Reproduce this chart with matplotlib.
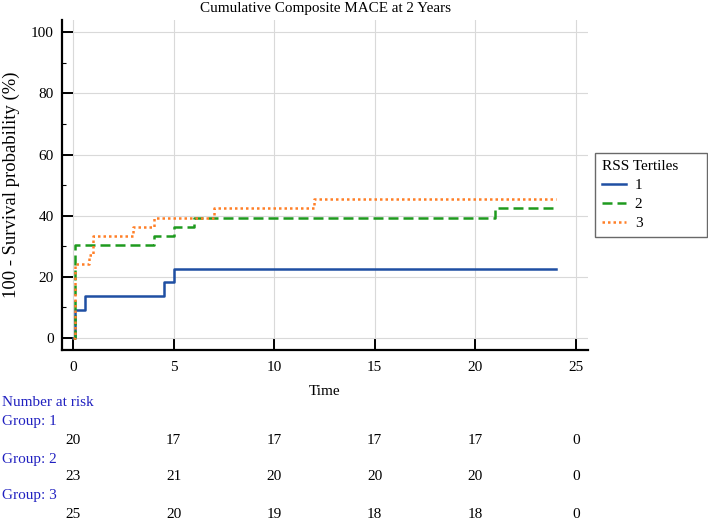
import matplotlib
matplotlib.use("Agg")
import matplotlib.pyplot as plt
from matplotlib.transforms import blended_transform_factory
from matplotlib.ticker import MultipleLocator

plt.rcParams['font.family'] = ['Liberation Serif', 'DejaVu Serif']

# Data: step curves (time, cumulative event %)
g1_t = [0, 0.1, 0.6, 4.5, 5.0, 24]
g1_y = [0, 9.1, 13.6, 18.2, 22.7, 22.7]
g2_t = [0, 0.1, 4.0, 5.0, 6.0, 21.0, 24]
g2_y = [0, 30.3, 33.3, 36.4, 39.4, 42.4, 42.4]
g3_t = [0, 0.1, 0.8, 1.0, 3.0, 4.0, 7.0, 12.0, 24]
g3_y = [0, 24.2, 27.3, 33.3, 36.4, 39.4, 42.4, 45.5, 45.5]

groups = ["1", "2", "3"]
risk_times = [0, 5, 10, 15, 20, 25]
risk_g1 = [20, 17, 17, 17, 17, 0]
risk_g2 = [23, 21, 20, 20, 20, 0]
risk_g3 = [25, 20, 19, 18, 18, 0]

colors = ["#1f4fa3", "#1e9a1e", "#ff7f27"]
styles = ["-", (0, (4, 2)), (0, (1, 1.2))]

fig = plt.figure(figsize=(7.08, 5.21), dpi=100)
ax = fig.add_axes([62/708, 1-350/521, (588-62)/708, (350-20)/521])

for t, y, c, ls, lab in zip([g1_t, g2_t, g3_t], [g1_y, g2_y, g3_y], colors, styles, groups):
    ax.step(t, y, where="post", color=c, linestyle=ls, lw=1.8, label=lab)

ax.set_xlim(-0.55, 25.6)
ax.set_ylim(-3.9, 104)
ax.set_xticks(range(0, 26, 5))
ax.set_yticks(range(0, 101, 20))
ax.yaxis.set_minor_locator(MultipleLocator(10))
ax.grid(True, which="major", color="#d9d9d9", lw=0.8)
for s in ["top", "right"]:
    ax.spines[s].set_visible(False)
for s in ["left", "bottom"]:
    ax.spines[s].set_linewidth(1.6)
ax.tick_params(axis="both", which="major", direction="in", length=8, width=1.4, labelsize=11)
ax.tick_params(axis="y", which="minor", direction="in", length=3, width=0.8)
ax.tick_params(axis="x", pad=8)
ax.tick_params(axis="y", pad=6)

ax.set_title("Cumulative Composite MACE at 2 Years", fontsize=10.9, pad=6)
ax.set_xlabel("Time", fontsize=11, labelpad=8)
ax.set_ylabel("100 - Survival probability (%)", fontsize=13.4)
ax.yaxis.set_label_coords(-0.080, 0.5)

leg = ax.legend(title="RSS Tertiles", loc="upper left",
                bbox_to_anchor=(595/708, 1-153/521, (707-595)/708, 0),
                bbox_transform=fig.transFigure, mode="expand", borderaxespad=0,
                fontsize=11, title_fontsize=11,
                frameon=True, fancybox=False, edgecolor="#444444", handlelength=1.6,
                borderpad=0.45, labelspacing=0.35, handletextpad=0.55)
leg.get_frame().set_linewidth(1.0)
leg._legend_box.align = "left"

# Number at risk table
tr = blended_transform_factory(ax.transData, fig.transFigure)
blue_txt = "#2020c0"
fig.text(2/708, 1-403/521, "Number at risk", color=blue_txt, fontsize=11, va="center", ha="left")
rows = [risk_g1, risk_g2, risk_g3]
label_y = [422, 459, 496]
num_y = [440, 477, 514]
for g, r, ly, ny in zip(groups, rows, label_y, num_y):
    fig.text(2/708, 1-ly/521, f"Group: {g}", color=blue_txt, fontsize=11, va="center", ha="left")
    for t, n in zip(risk_times, r):
        ax.text(t, 1-ny/521, str(n), transform=tr, fontsize=11, ha="center", va="center", clip_on=False)

fig.savefig("out.png", dpi=100)
